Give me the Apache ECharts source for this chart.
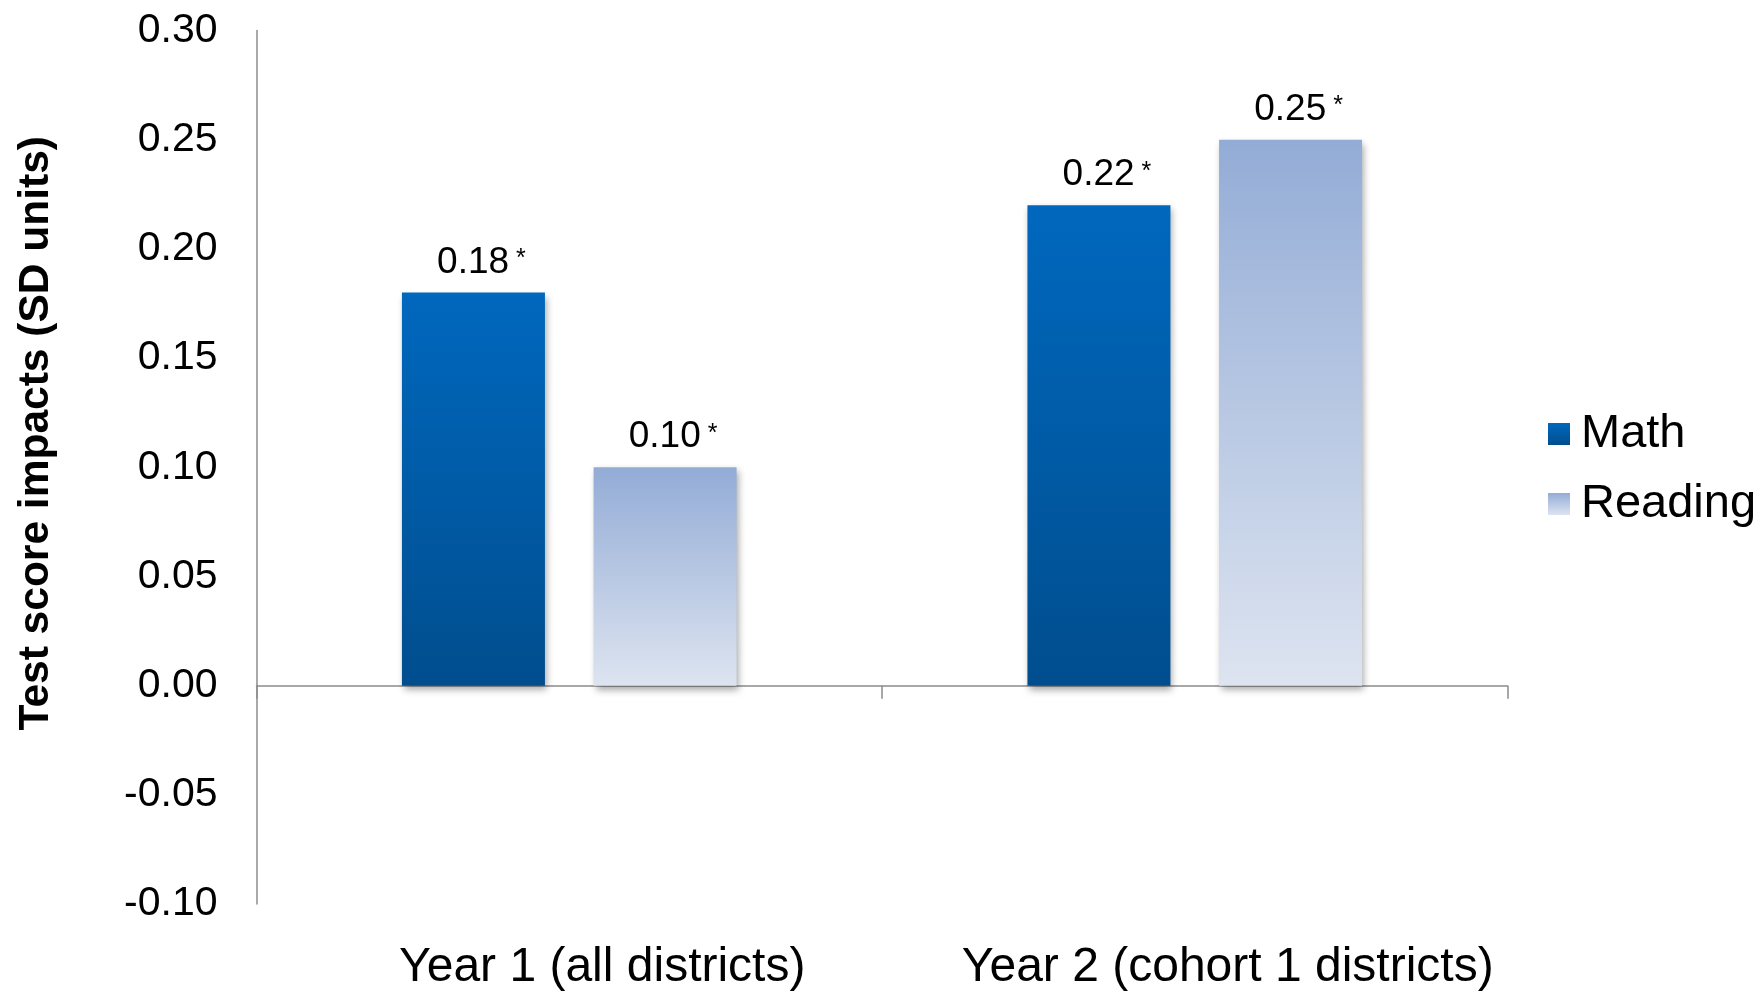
<!DOCTYPE html>
<html>
<head>
<meta charset="utf-8">
<style>
  html, body { margin: 0; padding: 0; background: #ffffff; }
  #chart { width: 1764px; height: 992px; }
</style>
<script src="https://cdn.jsdelivr.net/npm/echarts@6/dist/echarts.min.js"></script>
</head>
<body>
<div id="chart"></div>
<script>
// Impact estimates by study year
const categories = ['Year 1 (all districts)', 'Year 2 (cohort 1 districts)'];
const seriesNames = ['Math', 'Reading'];
const mathValues = [0.18, 0.22];
const readingValues = [0.10, 0.25];
const significance = ['*', '*'];  // marker for statistically significant impacts
const yTicks = { min: -0.10, max: 0.30, step: 0.05 };

const FONT = "'Liberation Sans', Arial, Helvetica, sans-serif";
const AXIS_GREY = '#8c8c8c';

const mathFill = new echarts.graphic.LinearGradient(0, 0, 0, 1, [
  { offset: 0, color: '#0068be' },
  { offset: 1, color: '#004e8e' }
]);
const readingFill = new echarts.graphic.LinearGradient(0, 0, 0, 1, [
  { offset: 0, color: '#93acd6' },
  { offset: 1, color: '#dde4f0' }
]);

function valueLabel(seriesValues) {
  return {
    show: true,
    position: 'top',
    distance: 10,
    offset: [8, 0],
    formatter: p => '{v|' + seriesValues[p.dataIndex].toFixed(2) + '}{s| ' + significance[p.dataIndex] + '}',
    rich: {
      v: { fontFamily: FONT, fontSize: 37, color: '#000000', lineHeight: 40 },
      s: { fontFamily: FONT, fontSize: 25, color: '#000000', lineHeight: 40, verticalAlign: 'top', padding: [4, 0, 0, 0] }
    }
  };
}

const barShadow = {
  shadowColor: 'rgba(0,0,0,0.35)',
  shadowBlur: 7,
  shadowOffsetX: 2,
  shadowOffsetY: 4
};

const chart = echarts.init(document.getElementById('chart'), null, { renderer: 'canvas' });

chart.setOption({
  backgroundColor: '#ffffff',
  animation: false,
  textStyle: { fontFamily: FONT },
  grid: { left: 256.5, right: 256.5, top: 30.5, bottom: 86, containLabel: false },
  legend: {
    orient: 'vertical',
    left: 1543,
    top: 405,
    itemWidth: 22,
    itemHeight: 22,
    itemGap: 22,
    icon: 'rect',
    data: seriesNames,
    textStyle: { fontFamily: FONT, fontSize: 47, color: '#000000', lineHeight: 48, padding: [0, 0, 0, 6] }
  },
  xAxis: [
    {
      type: 'category',
      data: categories,
      axisLine: { show: true, onZero: true, lineStyle: { color: AXIS_GREY, width: 1.5 } },
      axisTick: { show: true, length: 13, lineStyle: { color: AXIS_GREY, width: 1.5 } },
      axisLabel: { show: false },
      splitLine: { show: false }
    },
    {
      type: 'category',
      data: categories,
      position: 'bottom',
      axisLine: { show: false, onZero: false },
      axisTick: { show: false },
      splitLine: { show: false },
      axisLabel: {
        show: true,
        interval: 0,
        hideOverlap: false,
        margin: 40,
        fontFamily: FONT,
        fontSize: 48,
        lineHeight: 48,
        color: '#000000',
        padding: [0, 0, 0, 66]
      }
    }
  ],
  yAxis: {
    type: 'value',
    min: yTicks.min,
    max: yTicks.max,
    interval: yTicks.step,
    name: 'Test score impacts (SD units)',
    nameLocation: 'middle',
    nameRotate: 90,
    nameGap: 199,
    nameTextStyle: { fontFamily: FONT, fontSize: 42.5, fontWeight: 'bold', color: '#000000', padding: [0, 0, 0, 68] },
    axisLine: { show: true, lineStyle: { color: AXIS_GREY, width: 1.5 } },
    axisTick: { show: false },
    splitLine: { show: false },
    axisLabel: {
      margin: 39,
      fontFamily: FONT,
      fontSize: 41,
      color: '#000000',
      formatter: v => v.toFixed(2)
    }
  },
  series: [
    {
      name: seriesNames[0],
      type: 'bar',
      xAxisIndex: 0,
      data: mathValues,
      barGap: '34%',
      barCategoryGap: '46.5%',
      itemStyle: Object.assign({ color: mathFill }, barShadow),
      label: valueLabel(mathValues)
    },
    {
      name: seriesNames[1],
      type: 'bar',
      xAxisIndex: 0,
      data: readingValues,
      barGap: '34%',
      barCategoryGap: '46.5%',
      itemStyle: Object.assign({ color: readingFill }, barShadow),
      label: valueLabel(readingValues)
    }
  ]
});
</script>
</body>
</html>
